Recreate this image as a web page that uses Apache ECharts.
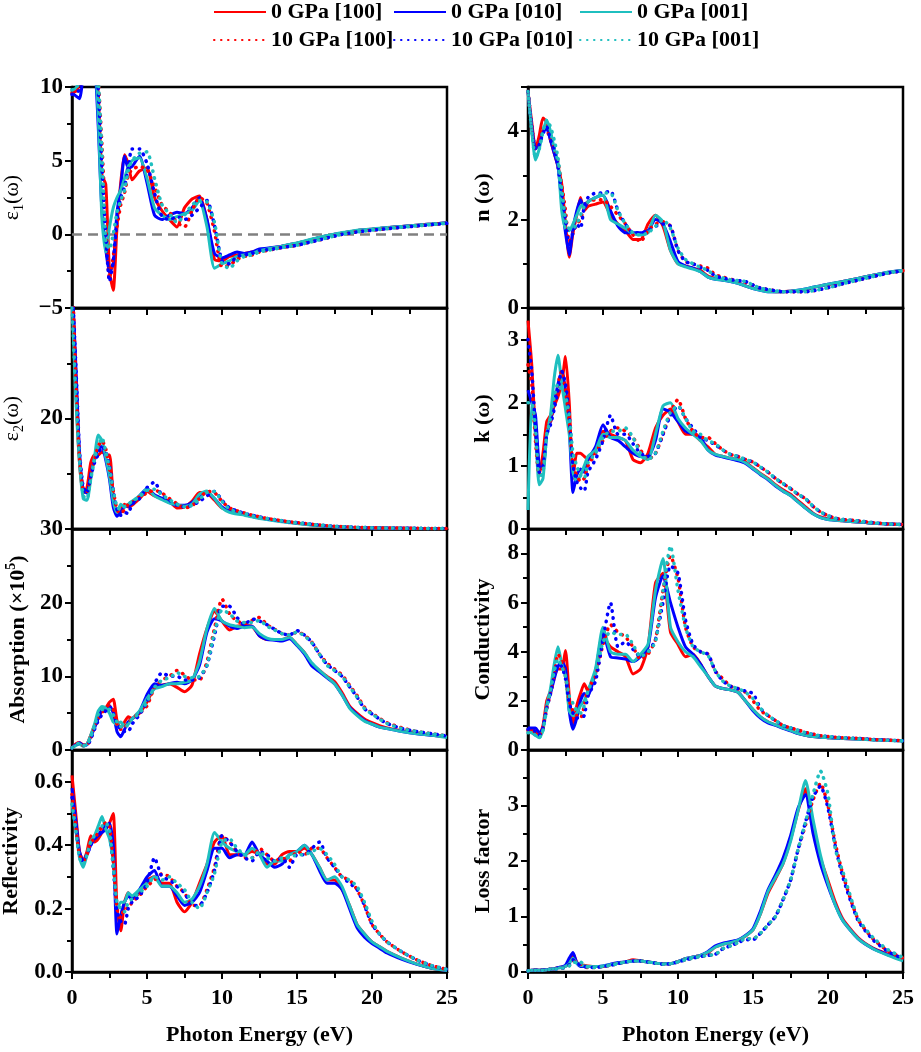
<!DOCTYPE html>
<html>
<head>
<meta charset="utf-8">
<title>Optical properties 0 / 10 GPa</title>
<script src="https://cdn.jsdelivr.net/npm/echarts/dist/echarts.min.js"></script>
<style>
html, body { margin: 0; padding: 0; background: #fff; }
#main { width: 921px; height: 1052px; }
</style>
</head>
<body>
<div id="main"></div>
<script>
// photon energy grid (eV), shared by every curve
var energy = [0,0.25,0.5,0.75,1,1.25,1.5,1.75,2,2.25,2.5,2.75,3,3.25,3.5,3.75,4,
	4.5,5,5.5,6,6.5,7,7.5,8,8.5,9,9.5,10,10.5,11,11.5,12,12.5,
	13,13.5,14,14.5,15,15.5,16,16.5,17,17.5,18,18.5,19,19.5,20,20.5,21,
	22,23,24,25];

var seriesNames = ['0 GPa [100]', '0 GPa [010]', '0 GPa [001]', '10 GPa [100]', '10 GPa [010]', '10 GPa [001]'];

// real part of dielectric function
var eps1_0_100 = [9.7,9.7,10.3,11.5,13,13.5,12.5,9.5,4.0,3.4,-2.5,-3.8,0.5,3.5,5.4,4.8,3.7,
	4.3,4.5,2.5,1.6,1.0,0.5,1.8,2.4,2.6,1.0,-1.7,-1.8,-1.5,-1.4,-1.3,-1.2,-1.1,
	-1.0,-0.9,-0.8,-0.7,-0.6,-0.48,-0.35,-0.22,-0.1,0.0,0.1,0.18,0.25,0.3,0.35,0.4,0.45,
	0.53,0.62,0.7,0.78];
var eps1_0_010 = [9.6,9.4,9.2,10.8,12.5,13,12,7.3,1.5,-1.0,-2.6,-2.0,1.5,3.2,5.3,4.5,4.6,
	5.3,3.5,1.3,1.0,1.3,1.5,1.4,1.8,2.5,1.0,-1.3,-1.6,-1.4,-1.2,-1.3,-1.2,-1.0,
	-0.95,-0.88,-0.8,-0.7,-0.6,-0.48,-0.35,-0.22,-0.1,0.0,0.1,0.18,0.25,0.3,0.35,0.4,0.45,
	0.53,0.62,0.7,0.78];
var eps1_0_001 = [9.8,9.9,10.5,11.8,13,13.2,12.5,8.0,1.0,-1.2,0.5,1.8,2.5,3.0,3.8,4.6,5.0,
	5.2,3.8,1.8,1.3,1.0,1.2,1.4,1.6,2.3,0.5,-2.3,-2.0,-1.8,-1.5,-1.4,-1.3,-1.1,
	-1.0,-0.9,-0.8,-0.68,-0.58,-0.45,-0.32,-0.2,-0.08,0.02,0.12,0.2,0.27,0.32,0.37,0.42,0.46,
	0.54,0.62,0.7,0.78];
var eps1_10_100 = [9.6,9.6,10.0,11,12.5,13,13,10.5,6.0,1.0,-3.0,-1.5,0.5,2.0,2.8,4.0,4.4,
	4.6,4.4,3.2,2.0,1.5,0.8,0.5,1.6,2.5,2.1,0.2,-2.2,-2.1,-1.7,-1.5,-1.4,-1.2,
	-1.1,-1.0,-0.9,-0.82,-0.75,-0.62,-0.5,-0.38,-0.25,-0.12,0.0,0.08,0.16,0.22,0.28,0.33,0.38,
	0.48,0.57,0.66,0.75];
var eps1_10_010 = [9.5,9.6,9.8,11,12.5,13,12.8,9.8,4.5,0.0,-3.2,-1.8,1.0,2.5,3.2,4.5,5.8,
	5.8,4.8,2.8,1.2,1.0,1.2,1.0,1.3,1.8,2.3,0.6,-1.8,-2.0,-1.5,-1.4,-1.3,-1.1,
	-1.05,-0.98,-0.9,-0.82,-0.75,-0.62,-0.5,-0.38,-0.25,-0.12,0.0,0.08,0.16,0.22,0.28,0.33,0.38,
	0.48,0.57,0.66,0.75];
var eps1_10_001 = [9.8,9.9,10.4,11.5,13,13.5,13.2,10.5,5.5,-0.5,-1.0,0.0,1.5,2.3,3.0,4.3,5.0,
	5.5,5.6,3.8,2.0,1.4,0.8,1.3,2.0,2.3,2.2,0.8,-2.0,-2.3,-1.8,-1.5,-1.4,-1.2,
	-1.1,-1.0,-0.9,-0.82,-0.74,-0.62,-0.5,-0.37,-0.24,-0.11,0.0,0.08,0.16,0.22,0.28,0.33,0.38,
	0.48,0.57,0.66,0.75];

// imaginary part of dielectric function
var eps2_0_100 = [48,26,12,6.5,7.5,12,13.4,13.4,14,13.4,13.4,6,2.5,3.5,4.5,4.0,4.3,
	5.5,6.8,6.0,5.5,5.0,3.8,4.0,5.0,6.6,6.5,5.2,3.8,3.3,2.9,2.6,2.3,2.0,
	1.8,1.6,1.4,1.2,1.05,0.9,0.75,0.62,0.5,0.42,0.35,0.3,0.26,0.23,0.2,0.18,0.16,
	0.13,0.11,0.1,0.09];
var eps2_0_010 = [45,30,14,7,6.5,10,12.5,14.5,15,12.5,9,4,2.3,3.0,4.0,4.2,4.6,
	6.0,7.3,6.2,5.5,4.8,4.3,4.3,4.8,6.0,6.6,5.5,4.0,3.2,2.9,2.6,2.3,2.0,
	1.8,1.6,1.4,1.2,1.05,0.9,0.75,0.62,0.5,0.42,0.35,0.3,0.26,0.23,0.2,0.18,0.16,
	0.13,0.11,0.1,0.09];
var eps2_0_001 = [42,24,12,5.5,5.2,9,13,17,16,13,9.5,5,3.0,4.5,4.0,4.5,5.0,
	6.0,7.3,6.0,5.3,4.7,4.4,4.1,4.5,6.3,6.9,5.5,3.8,3.0,2.7,2.5,2.2,1.9,
	1.7,1.5,1.3,1.15,1.0,0.85,0.7,0.58,0.48,0.4,0.33,0.28,0.25,0.22,0.19,0.17,0.15,
	0.12,0.1,0.09,0.08];
var eps2_10_100 = [48,28,13,7,6.8,10,12.5,15,16,14.5,11,7,3.5,2.8,3.5,4.5,4.8,
	5.8,6.5,7.0,6.5,5.5,4.6,3.8,4.2,5.5,6.8,6.6,5.0,3.8,3.3,2.9,2.5,2.2,
	1.9,1.7,1.5,1.3,1.15,1.0,0.85,0.72,0.6,0.5,0.42,0.36,0.3,0.26,0.23,0.2,0.18,
	0.15,0.12,0.1,0.09];
var eps2_10_010 = [45,30,14,7.5,6.5,9.5,12,13.5,15,14,11.5,7,3.5,2.5,3.0,2.8,4.5,
	5.5,7.5,8.5,6.0,5.2,4.4,4.0,4.3,5.0,6.0,6.8,5.2,3.8,3.3,2.8,2.5,2.2,
	1.9,1.7,1.5,1.3,1.15,1.0,0.85,0.72,0.6,0.5,0.42,0.36,0.3,0.26,0.23,0.2,0.18,
	0.15,0.12,0.1,0.09];
var eps2_10_001 = [40,25,13,6,5.5,9,12.5,15,16.5,14,11,7,4,3.5,4.0,4.5,5.0,
	5.8,7.0,7.2,6.2,5.3,4.5,4.0,4.3,5.4,6.6,6.8,5.0,3.6,3.1,2.8,2.4,2.1,
	1.9,1.7,1.5,1.3,1.15,1.0,0.85,0.72,0.6,0.5,0.42,0.36,0.3,0.26,0.23,0.2,0.18,
	0.15,0.12,0.1,0.09];

// absorption (x10^5)
var absn_0_100 = [0.3,0.8,1.0,0.7,0.8,2.0,3.3,4.3,5.3,5.7,6.5,6.9,4.0,3.0,3.8,4.5,4.3,
	5.0,6.5,8.5,8.8,9.0,8.5,7.9,8.8,13.0,16.5,18.8,17.5,16.3,16.8,16.9,16.8,15.5,
	15.0,15.0,15.0,15.3,14.3,13.2,11.6,10.8,10.0,9.3,7.8,6.0,5.0,4.2,3.7,3.3,3.0,
	2.6,2.3,2.0,1.8];
var absn_0_010 = [0.3,0.7,1.0,0.6,0.7,1.8,3.0,4.3,5.5,5.5,6.0,5.0,2.5,1.8,2.8,3.8,4.2,
	5.2,7.5,9.0,8.8,9.0,9.2,9.0,9.5,11.5,16.0,17.8,17.5,16.8,16.5,16.8,16.8,15.5,
	15.0,14.9,14.8,15.1,14.2,13.0,11.4,10.6,9.8,9.0,7.5,5.8,4.8,4.0,3.5,3.1,2.9,
	2.5,2.2,2.0,1.8];
var absn_0_001 = [0.3,0.6,0.8,0.5,0.8,2.0,3.5,5.3,5.9,5.7,5.0,3.8,3.5,3.8,3.3,3.5,4.2,
	5.3,7.0,8.3,8.6,9.0,9.0,9.2,9.5,12.0,16.5,19.2,17.5,17.0,16.8,16.6,16.7,15.8,
	15.2,15.0,15.0,15.3,14.3,13.2,11.8,10.8,9.9,9.0,7.5,5.7,4.7,3.9,3.5,3.1,2.9,
	2.5,2.2,2.0,1.7];
var absn_10_100 = [0.3,0.8,1.0,0.6,0.6,1.6,3.0,4.2,5.0,5.6,6.0,5.5,3.5,2.8,3.0,3.8,4.3,
	5.0,6.0,8.5,9.5,10.0,10.8,10.2,9.5,9.5,12.0,16.5,20.5,18.5,17.5,17.2,17.6,18.0,
	17.0,16.4,15.8,15.6,16.0,15.6,14.6,13.0,11.8,11.0,10.2,8.8,7.4,5.8,5.0,4.3,3.7,
	3.0,2.5,2.2,1.9];
var absn_10_010 = [0.3,0.7,0.9,0.6,0.6,1.5,2.8,4.0,4.8,5.3,5.8,5.0,3.5,2.8,2.5,2.5,3.5,
	4.8,6.5,9.0,10.5,10.0,10.0,9.5,9.5,9.8,11.5,15.5,19.5,19.5,18.0,17.0,17.8,17.5,
	17.0,16.4,15.8,15.6,16.2,15.6,14.6,13.0,11.6,10.8,10.0,8.6,7.2,5.6,4.9,4.2,3.6,
	2.9,2.5,2.2,1.9];
var absn_10_001 = [0.3,0.7,0.9,0.6,0.7,1.8,3.2,4.8,5.5,5.6,5.5,4.8,3.8,3.2,3.0,3.5,4.2,
	5.0,6.5,8.5,9.5,9.8,10.5,10.0,9.8,10.0,11.5,16.0,19.0,18.5,17.5,17.3,17.3,17.6,
	16.8,16.3,15.8,15.6,16.0,15.5,14.5,13.0,11.5,10.8,10.0,8.6,7.2,5.6,4.9,4.2,3.6,
	2.9,2.5,2.2,1.9];

// reflectivity
var refl_0_100 = [0.62,0.5,0.38,0.35,0.38,0.43,0.41,0.42,0.44,0.46,0.47,0.5,0.2,0.13,0.22,0.25,0.23,
	0.25,0.29,0.3,0.28,0.28,0.22,0.19,0.22,0.28,0.34,0.41,0.43,0.37,0.37,0.37,0.38,0.37,
	0.34,0.34,0.37,0.38,0.38,0.39,0.37,0.33,0.29,0.29,0.26,0.21,0.15,0.12,0.095,0.08,0.065,
	0.043,0.025,0.012,0.005];
var refl_0_010 = [0.58,0.48,0.38,0.35,0.37,0.4,0.42,0.43,0.44,0.45,0.47,0.4,0.12,0.18,0.22,0.24,0.23,
	0.26,0.3,0.32,0.27,0.27,0.24,0.21,0.22,0.25,0.32,0.39,0.39,0.36,0.37,0.37,0.41,0.37,
	0.35,0.33,0.34,0.37,0.38,0.40,0.37,0.32,0.28,0.28,0.26,0.2,0.14,0.11,0.09,0.075,0.06,
	0.04,0.024,0.012,0.005];
var refl_0_001 = [0.53,0.45,0.36,0.33,0.37,0.41,0.43,0.46,0.49,0.45,0.42,0.35,0.2,0.22,0.22,0.25,0.24,
	0.26,0.28,0.3,0.27,0.27,0.25,0.22,0.23,0.27,0.34,0.44,0.41,0.39,0.38,0.37,0.39,0.37,
	0.33,0.35,0.35,0.37,0.38,0.40,0.37,0.33,0.29,0.3,0.27,0.21,0.15,0.12,0.095,0.08,0.065,
	0.043,0.025,0.012,0.005];
var refl_10_100 = [0.56,0.46,0.37,0.35,0.37,0.41,0.42,0.44,0.46,0.47,0.46,0.35,0.2,0.17,0.2,0.2,0.22,
	0.24,0.27,0.29,0.31,0.3,0.27,0.25,0.21,0.21,0.26,0.33,0.43,0.41,0.38,0.36,0.36,0.39,
	0.37,0.35,0.36,0.35,0.38,0.37,0.39,0.39,0.36,0.33,0.3,0.29,0.26,0.21,0.15,0.12,0.095,
	0.063,0.038,0.02,0.008];
var refl_10_010 = [0.55,0.46,0.37,0.35,0.37,0.4,0.42,0.43,0.45,0.47,0.45,0.33,0.19,0.16,0.15,0.2,0.22,
	0.24,0.28,0.36,0.3,0.29,0.27,0.25,0.21,0.21,0.25,0.32,0.43,0.41,0.38,0.36,0.35,0.38,
	0.37,0.35,0.36,0.33,0.37,0.37,0.39,0.41,0.36,0.33,0.3,0.28,0.26,0.21,0.15,0.12,0.095,
	0.063,0.038,0.02,0.008];
var refl_10_001 = [0.53,0.45,0.36,0.34,0.37,0.41,0.43,0.45,0.46,0.47,0.45,0.33,0.22,0.2,0.19,0.22,0.23,
	0.25,0.27,0.3,0.29,0.3,0.28,0.26,0.22,0.2,0.25,0.31,0.41,0.42,0.39,0.37,0.36,0.38,
	0.36,0.35,0.36,0.36,0.37,0.37,0.38,0.39,0.37,0.34,0.3,0.29,0.27,0.22,0.16,0.12,0.095,
	0.063,0.038,0.02,0.008];

// refractive index n
var nIdx_0_100 = [4.9,4.2,3.6,3.9,4.3,4.2,3.8,3.5,3.2,2.8,1.9,1.15,1.7,2.1,2.5,2.2,2.3,
	2.35,2.4,2.1,1.9,1.75,1.55,1.55,1.9,2.1,1.85,1.3,1.0,0.95,0.9,0.85,0.72,0.67,
	0.64,0.61,0.57,0.5,0.45,0.41,0.38,0.37,0.37,0.38,0.39,0.41,0.46,0.5,0.53,0.56,0.6,
	0.67,0.74,0.8,0.85];
var nIdx_0_010 = [4.9,4.1,3.6,3.7,4.0,4.05,3.8,3.5,3.2,2.4,1.7,1.2,1.8,2.2,2.45,2.25,2.4,
	2.5,2.55,2.2,1.85,1.7,1.7,1.7,1.75,2.0,1.9,1.5,1.05,0.95,0.9,0.82,0.7,0.65,
	0.63,0.6,0.56,0.5,0.44,0.4,0.37,0.37,0.37,0.38,0.4,0.43,0.47,0.5,0.54,0.57,0.6,
	0.67,0.74,0.81,0.85];
var nIdx_0_001 = [4.9,4.0,3.35,3.6,4.0,4.25,4.0,3.6,3.3,2.2,1.8,1.75,1.9,2.1,2.3,2.35,2.4,
	2.5,2.55,2.0,1.9,1.8,1.68,1.65,1.7,2.1,1.95,1.3,1.0,0.93,0.88,0.82,0.7,0.65,
	0.63,0.6,0.56,0.5,0.44,0.4,0.37,0.37,0.37,0.38,0.4,0.43,0.47,0.5,0.54,0.57,0.6,
	0.67,0.74,0.81,0.85];
var nIdx_10_100 = [4.9,4.1,3.6,3.75,4.0,4.0,3.8,3.6,3.3,2.8,2.2,1.5,1.7,1.9,2.0,2.3,2.4,
	2.45,2.45,2.3,2.1,1.9,1.65,1.5,1.75,1.9,1.95,1.85,1.3,1.05,1.0,0.95,0.9,0.75,
	0.7,0.65,0.62,0.58,0.52,0.45,0.42,0.39,0.37,0.37,0.37,0.37,0.39,0.42,0.46,0.5,0.55,
	0.63,0.71,0.79,0.84];
var nIdx_10_010 = [4.9,4.1,3.6,3.7,3.95,4.1,3.8,3.6,3.2,2.6,2.0,1.4,1.7,1.9,1.8,2.3,2.5,
	2.6,2.6,2.65,2.2,1.9,1.7,1.7,1.75,1.85,1.9,1.85,1.3,1.05,1.0,0.92,0.85,0.72,
	0.68,0.64,0.62,0.6,0.52,0.45,0.42,0.39,0.37,0.37,0.37,0.37,0.39,0.42,0.46,0.5,0.55,
	0.63,0.71,0.79,0.84];
var nIdx_10_001 = [4.9,4.0,3.4,3.6,4.0,4.25,4.1,3.8,3.4,2.7,2.0,1.8,1.8,1.9,2.1,2.3,2.4,
	2.5,2.6,2.6,2.2,1.9,1.7,1.65,1.7,1.85,2.0,1.8,1.35,1.1,1.0,0.92,0.85,0.72,
	0.68,0.64,0.62,0.6,0.52,0.45,0.42,0.39,0.37,0.37,0.37,0.37,0.39,0.42,0.46,0.5,0.55,
	0.63,0.71,0.79,0.84];

// extinction coefficient k
var kIdx_0_100 = [3.3,2.6,1.5,0.85,1.2,1.7,1.8,1.95,2.1,2.3,2.73,2.0,0.8,1.2,1.2,1.15,1.1,
	1.25,1.55,1.5,1.45,1.4,1.1,1.05,1.2,1.6,1.8,1.9,1.7,1.5,1.5,1.4,1.3,1.18,
	1.15,1.12,1.1,1.06,0.97,0.88,0.8,0.7,0.62,0.55,0.45,0.35,0.25,0.19,0.16,0.14,0.13,
	0.11,0.09,0.08,0.07];
var kIdx_0_010 = [2.2,2.0,1.8,1.0,0.95,1.5,1.7,2.0,2.3,2.5,2.2,1.6,0.58,0.85,0.95,0.9,1.1,
	1.3,1.65,1.45,1.4,1.3,1.2,1.15,1.15,1.4,1.9,1.85,1.7,1.55,1.5,1.45,1.25,1.17,
	1.14,1.11,1.08,1.04,0.95,0.86,0.78,0.68,0.6,0.53,0.43,0.33,0.24,0.18,0.15,0.14,0.13,
	0.11,0.09,0.08,0.07];
var kIdx_0_001 = [0.3,2.0,1.5,0.7,0.8,1.5,1.8,2.4,2.75,2.3,1.9,1.5,0.9,0.75,0.85,1.0,1.15,
	1.25,1.5,1.45,1.45,1.4,1.25,1.15,1.1,1.5,1.95,2.0,1.75,1.6,1.5,1.4,1.25,1.18,
	1.15,1.12,1.1,1.05,0.96,0.87,0.79,0.69,0.6,0.53,0.43,0.33,0.24,0.18,0.15,0.14,0.13,
	0.11,0.09,0.08,0.07];
var kIdx_10_100 = [2.6,2.3,1.4,0.85,1.0,1.6,1.7,2.0,2.3,2.5,2.2,1.7,1.0,0.85,0.75,0.8,1.0,
	1.2,1.4,1.55,1.6,1.55,1.45,1.25,1.1,1.2,1.5,1.85,2.05,1.75,1.55,1.45,1.45,1.35,
	1.25,1.18,1.15,1.1,1.06,0.98,0.9,0.8,0.72,0.64,0.55,0.48,0.36,0.27,0.21,0.17,0.15,
	0.13,0.1,0.08,0.07];
var kIdx_10_010 = [3.0,2.5,1.6,0.9,1.0,1.5,1.65,1.9,2.2,2.5,2.3,1.8,1.0,0.75,0.65,0.6,0.9,
	1.1,1.4,1.8,1.5,1.5,1.35,1.2,1.15,1.2,1.5,1.8,1.95,1.75,1.6,1.45,1.4,1.33,
	1.25,1.18,1.15,1.1,1.06,0.98,0.9,0.8,0.72,0.64,0.55,0.48,0.36,0.27,0.21,0.17,0.15,
	0.13,0.1,0.08,0.07];
var kIdx_10_001 = [2.0,2.0,1.6,0.8,0.9,1.5,1.75,2.1,2.3,2.2,2.1,1.8,1.2,1.0,0.85,0.8,1.05,
	1.2,1.45,1.55,1.55,1.6,1.45,1.2,1.1,1.2,1.55,1.85,1.95,1.75,1.55,1.5,1.4,1.35,
	1.25,1.18,1.15,1.1,1.06,0.98,0.9,0.8,0.72,0.64,0.55,0.48,0.36,0.27,0.21,0.17,0.15,
	0.13,0.1,0.08,0.07];

// optical conductivity
var cond_0_100 = [0.8,0.8,0.75,0.6,1.0,2.0,2.4,3.0,3.3,3.3,4.05,2.2,1.0,1.8,2.3,2.7,2.4,
	3.1,4.6,4.2,4.0,3.8,3.1,3.3,4.2,6.8,7.2,4.8,4.3,3.8,3.9,3.5,3.0,2.6,
	2.5,2.45,2.35,2.0,1.65,1.35,1.15,1.02,0.9,0.8,0.68,0.6,0.55,0.52,0.5,0.48,0.47,
	0.45,0.42,0.4,0.38];
var cond_0_010 = [0.9,0.9,0.9,0.7,0.9,1.8,2.3,2.9,3.4,3.6,3.3,1.6,0.85,1.3,2.0,2.3,2.2,
	3.2,4.8,3.8,3.75,3.7,3.6,3.8,4.2,6.2,7.1,6.0,5.0,4.2,3.9,3.5,3.0,2.6,
	2.5,2.45,2.35,2.0,1.6,1.3,1.1,1.0,0.88,0.78,0.67,0.6,0.55,0.52,0.5,0.48,0.47,
	0.45,0.42,0.4,0.38];
var cond_0_001 = [0.75,0.7,0.6,0.5,0.8,1.8,2.5,3.5,4.2,3.5,3.0,1.6,1.4,1.5,1.8,2.0,2.4,
	3.3,5.0,4.0,3.9,3.9,3.6,3.9,4.3,6.5,7.8,5.0,4.4,4.0,3.8,3.4,3.0,2.6,
	2.5,2.45,2.35,2.0,1.65,1.35,1.15,1.02,0.9,0.8,0.68,0.6,0.55,0.52,0.5,0.48,0.47,
	0.44,0.41,0.39,0.37];
var cond_10_100 = [0.8,0.8,0.7,0.6,0.9,1.7,2.3,3.0,3.9,3.6,3.0,2.0,1.6,1.4,1.3,1.8,2.5,
	3.0,4.3,5.1,4.8,4.6,4.2,3.7,3.9,4.5,6.5,7.9,7.0,5.0,4.2,4.0,3.9,3.2,
	2.9,2.6,2.5,2.35,2.0,1.6,1.4,1.2,1.0,0.9,0.82,0.72,0.65,0.58,0.55,0.52,0.5,
	0.47,0.43,0.4,0.38];
var cond_10_010 = [0.85,0.85,0.75,0.6,0.9,1.7,2.3,3.0,3.5,3.4,2.9,1.9,1.5,1.3,1.3,1.4,2.2,
	2.8,4.5,6.0,4.2,4.4,4.1,3.8,4.0,4.5,6.0,7.5,7.2,5.3,4.3,4.0,3.9,3.2,
	2.8,2.6,2.5,2.4,2.3,1.7,1.4,1.2,1.0,0.9,0.8,0.7,0.63,0.57,0.55,0.52,0.5,
	0.47,0.43,0.4,0.38];
var cond_10_001 = [0.7,0.7,0.6,0.5,0.8,1.7,2.4,3.2,3.7,3.4,3.0,2.2,1.9,1.6,1.5,1.8,2.4,
	3.1,4.4,4.8,4.7,4.7,4.3,3.8,4.0,4.4,6.5,8.3,6.5,5.0,4.2,4.0,3.85,3.2,
	2.8,2.6,2.5,2.35,2.1,1.7,1.4,1.2,1.0,0.9,0.8,0.7,0.63,0.57,0.55,0.52,0.5,
	0.46,0.42,0.4,0.37];

// energy loss function
var loss_0_100 = [0.02,0.03,0.04,0.03,0.04,0.04,0.05,0.06,0.08,0.09,0.1,0.2,0.33,0.18,0.12,0.12,0.11,
	0.1,0.1,0.13,0.16,0.18,0.22,0.2,0.18,0.16,0.15,0.15,0.19,0.24,0.27,0.3,0.35,0.45,
	0.5,0.53,0.57,0.65,0.76,1.05,1.42,1.68,1.95,2.38,2.9,3.3,2.6,2.05,1.65,1.25,0.95,
	0.62,0.43,0.32,0.22];
var loss_0_010 = [0.02,0.03,0.04,0.03,0.04,0.04,0.05,0.06,0.08,0.09,0.12,0.25,0.35,0.16,0.1,0.1,0.1,
	0.1,0.11,0.14,0.17,0.18,0.2,0.2,0.18,0.16,0.15,0.15,0.19,0.24,0.27,0.3,0.37,0.47,
	0.52,0.55,0.58,0.66,0.78,1.1,1.48,1.75,2.05,2.45,2.95,3.2,2.5,1.95,1.55,1.2,0.92,
	0.6,0.42,0.31,0.21];
var loss_0_001 = [0.02,0.03,0.03,0.03,0.03,0.04,0.05,0.06,0.07,0.08,0.1,0.15,0.25,0.16,0.12,0.11,0.1,
	0.1,0.11,0.13,0.16,0.18,0.2,0.2,0.18,0.16,0.15,0.15,0.19,0.24,0.27,0.3,0.36,0.45,
	0.5,0.53,0.57,0.65,0.76,1.05,1.45,1.7,1.95,2.35,2.9,3.45,2.75,2.1,1.6,1.2,0.92,
	0.6,0.42,0.3,0.2];
var loss_10_100 = [0.02,0.03,0.03,0.03,0.03,0.04,0.05,0.05,0.06,0.07,0.08,0.12,0.2,0.17,0.14,0.1,0.08,
	0.08,0.1,0.12,0.15,0.18,0.2,0.2,0.18,0.16,0.14,0.15,0.18,0.22,0.25,0.28,0.3,0.32,
	0.42,0.47,0.53,0.6,0.6,0.7,0.85,1.0,1.3,1.65,2.2,2.65,3.1,3.4,3.0,2.3,1.75,
	0.95,0.6,0.38,0.25];
var loss_10_010 = [0.02,0.03,0.03,0.03,0.03,0.04,0.05,0.05,0.06,0.07,0.08,0.13,0.22,0.16,0.13,0.1,0.08,
	0.08,0.1,0.12,0.15,0.18,0.2,0.2,0.18,0.16,0.14,0.15,0.18,0.22,0.25,0.28,0.3,0.32,
	0.42,0.47,0.53,0.58,0.58,0.7,0.85,1.0,1.3,1.65,2.2,2.7,3.15,3.35,2.95,2.25,1.7,
	0.93,0.58,0.37,0.24];
var loss_10_001 = [0.02,0.03,0.03,0.03,0.03,0.04,0.05,0.05,0.06,0.07,0.08,0.11,0.18,0.17,0.18,0.12,0.09,
	0.08,0.1,0.12,0.15,0.18,0.2,0.2,0.18,0.16,0.14,0.15,0.18,0.22,0.25,0.28,0.3,0.32,
	0.42,0.47,0.53,0.6,0.6,0.7,0.85,1.0,1.3,1.65,2.2,2.7,3.2,3.62,3.2,2.2,1.8,
	0.97,0.62,0.4,0.26];

var FONT = 'Liberation Serif';
var colors = ['#ff0000', '#0000ff', '#1fbfbf', '#ff0000', '#0000ff', '#1fbfbf'];
var colLeft = [72, 528];
var rowTop = [87, 308, 529, 750];
var rowH = [221, 221, 221, 222];

// panel setup: which labels each y axis prints (shared edges show only one)
var panels = [
	{col: 0, row: 0, name: 'ε{sub|1}(ω)', bold: false, gap: 46, min: -5, max: 10, interval: 5, labels: [-5, 0, 5, 10], dec: 0,
		data: [eps1_0_100, eps1_0_010, eps1_0_001, eps1_10_100, eps1_10_010, eps1_10_001]},
	{col: 0, row: 1, name: 'ε{sub|2}(ω)', bold: false, gap: 46, min: 0, max: 40, interval: 20, labels: [20], dec: 0,
		data: [eps2_0_100, eps2_0_010, eps2_0_001, eps2_10_100, eps2_10_010, eps2_10_001]},
	{col: 0, row: 2, name: 'Absorption (×10{sup|5})', bold: true, gap: 40, min: 0, max: 30, interval: 10, labels: [0, 10, 20, 30], dec: 0,
		data: [absn_0_100, absn_0_010, absn_0_001, absn_10_100, absn_10_010, absn_10_001]},
	{col: 0, row: 3, name: 'Reflectivity', bold: true, gap: 47, min: 0, max: 0.7, interval: 0.2, labels: [0, 0.2, 0.4, 0.6], dec: 1,
		data: [refl_0_100, refl_0_010, refl_0_001, refl_10_100, refl_10_010, refl_10_001]},
	{col: 1, row: 0, name: 'n (ω)', bold: true, gap: 31, min: 0, max: 5, interval: 2, labels: [0, 2, 4], dec: 0,
		data: [nIdx_0_100, nIdx_0_010, nIdx_0_001, nIdx_10_100, nIdx_10_010, nIdx_10_001]},
	{col: 1, row: 1, name: 'k (ω)', bold: true, gap: 31, min: 0, max: 3.5, interval: 1, labels: [0, 1, 2, 3], dec: 0,
		data: [kIdx_0_100, kIdx_0_010, kIdx_0_001, kIdx_10_100, kIdx_10_010, kIdx_10_001]},
	{col: 1, row: 2, name: 'Conductivity', bold: true, gap: 31, min: 0, max: 9, interval: 2, labels: [0, 2, 4, 6, 8], dec: 0,
		data: [cond_0_100, cond_0_010, cond_0_001, cond_10_100, cond_10_010, cond_10_001]},
	{col: 1, row: 3, name: 'Loss factor', bold: true, gap: 31, min: 0, max: 4, interval: 1, labels: [0, 1, 2, 3], dec: 0,
		data: [loss_0_100, loss_0_010, loss_0_001, loss_10_100, loss_10_010, loss_10_001]}
];

function labelFn(p) {
	return function(v) {
		for (var i = 0; i < p.labels.length; i++) {
			if (Math.abs(p.labels[i] - v) < 1e-9) {
				return (v < 0 ? '\u2212' : '') + Math.abs(v).toFixed(p.dec);
			}
		}
		return '';
	};
}

var grids = [], xAxes = [], yAxes = [], series = [];
var axisLineStyle = {color: '#000', width: 2.5};

panels.forEach(function(p, i) {
	grids.push({
		left: colLeft[p.col], top: rowTop[p.row], width: 375, height: rowH[p.row],
		show: true, borderColor: '#000', borderWidth: 2.5, outerBoundsMode: 'none'
	});
	var bottom = p.row === 3;
	xAxes.push({
		type: 'value', gridIndex: i, min: 0, max: 25, interval: 5,
		axisLine: {show: true, onZero: false, lineStyle: axisLineStyle},
		axisTick: {show: true, inside: false, length: 7, lineStyle: {color: '#000', width: 2}},
		minorTick: {show: true, splitNumber: 2, length: 6, lineStyle: {color: '#000', width: 2}},
		axisLabel: {show: bottom, margin: 15, color: '#000', fontFamily: FONT, fontWeight: 'bold', fontSize: 22},
		splitLine: {show: false},
		name: bottom ? 'Photon Energy (eV)' : '',
		nameLocation: 'middle', nameGap: 52,
		nameTextStyle: {color: '#000', fontFamily: FONT, fontWeight: 'bold', fontSize: 22}
	});
	yAxes.push({
		type: 'value', gridIndex: i, min: p.min, max: p.max, interval: p.interval,
		axisLine: {show: true, onZero: false, lineStyle: axisLineStyle},
		axisTick: {show: true, inside: false, length: 7, lineStyle: {color: '#000', width: 2}},
		minorTick: {show: true, splitNumber: 2, length: 5, lineStyle: {color: '#000', width: 2}},
		axisLabel: {show: true, margin: 9, formatter: labelFn(p), showMinLabel: true, showMaxLabel: true,
			color: '#000', fontFamily: FONT, fontWeight: 'bold', fontSize: 23},
		splitLine: {show: false},
		name: p.name, nameLocation: 'middle', nameGap: p.gap,
		nameTextStyle: {
			color: '#000', fontFamily: FONT, fontWeight: p.bold ? 'bold' : 'normal', fontSize: 22, lineHeight: 28,
			rich: {
				sub: {fontFamily: FONT, fontWeight: 'normal', fontSize: 14, lineHeight: 28, verticalAlign: 'bottom', color: '#000'},
				sup: {fontFamily: FONT, fontWeight: 'bold', fontSize: 14, lineHeight: 28, verticalAlign: 'top', color: '#000'}
			}
		}
	});
	p.data.forEach(function(arr, k) {
		var dotted = k >= 3;
		var s = {
			type: 'line', name: seriesNames[k], xAxisIndex: i, yAxisIndex: i,
			data: energy.map(function(e, j) { return [e, arr[j]]; }),
			symbol: 'none', smooth: 0.2, clip: true,
			lineStyle: dotted
				? {color: colors[k], width: 3.5, type: [0.5, 6.5], cap: 'round'}
				: {color: colors[k], width: 3, type: 'solid'},
			itemStyle: {color: colors[k]},
			z: 3 + k
		};
		if (i === 0 && k === 0) {
			s.markLine = {
				silent: true, symbol: ['none', 'none'], label: {show: false},
				lineStyle: {color: '#808080', type: [10, 6], width: 2.5, cap: 'butt'},
				data: [{yAxis: 0}]
			};
		}
		series.push(s);
	});
});

var legendPos = [[213, 1], [393, 1], [579, 1], [213, 29], [393, 29], [579, 29]];
var legends = seriesNames.map(function(nm, k) {
	return {
		data: [nm], left: legendPos[k][0], top: legendPos[k][1],
		itemWidth: 52, itemHeight: 14, itemGap: 0, padding: 0, selectedMode: false,
		itemStyle: {opacity: 0},
		textStyle: {color: '#000', fontFamily: FONT, fontWeight: 'bold', fontSize: 22}
	};
});

var myChart = echarts.init(document.getElementById('main'));
myChart.setOption({
	animation: false,
	backgroundColor: '#fff',
	textStyle: {fontFamily: FONT},
	legend: legends,
	grid: grids,
	xAxis: xAxes,
	yAxis: yAxes,
	series: series
});
</script>
</body>
</html>
